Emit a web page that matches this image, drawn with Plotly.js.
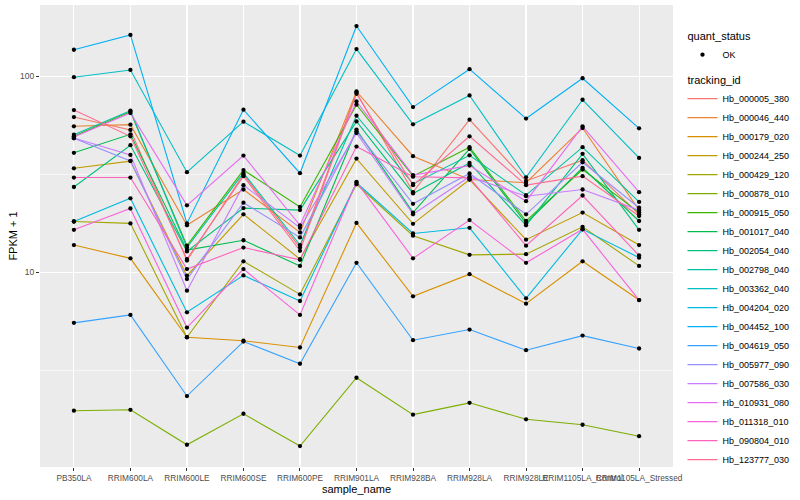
<!DOCTYPE html>
<html><head><meta charset="utf-8">
<script src="https://cdn.plot.ly/plotly-3.0.1.min.js"></script>
<style>html,body{margin:0;padding:0;background:#fff}#chart{width:800px;height:500px}</style>
</head><body><div id="chart"></div>
<script>
const samples = ['PB350LA','RRIM600LA','RRIM600LE','RRIM600SE','RRIM600PE','RRIM901LA','RRIM928BA','RRIM928LA','RRIM928LE','RRIM1105LA_Control','RRIM1105LA_Stressed'];
const trackingIds = ['Hb_000005_380','Hb_000046_440','Hb_000179_020','Hb_000244_250','Hb_000429_120','Hb_000878_010','Hb_000915_050','Hb_001017_040','Hb_002054_040','Hb_002798_040','Hb_003362_040','Hb_004204_020','Hb_004452_100','Hb_004619_050','Hb_005977_090','Hb_007586_030','Hb_010931_080','Hb_011318_010','Hb_090804_010','Hb_123777_030'];
const quantStatus = 'OK';

// FPKM + 1 per sample (order of `samples`)
const Hb_000005_380 = [62.1, 53.4, 11.5, 31.6, 13.4, 82.9, 25.7, 60.2, 29.3, 37.4, 19.8];
const Hb_000046_440 = [55.7, 56.8, 17.4, 26.5, 16.0, 83.9, 39.2, 29.8, 28.7, 54.6, 20.8];
const Hb_000179_020 = [13.8, 11.8, 4.67, 4.48, 4.14, 17.9, 7.55, 9.8, 6.93, 11.4, 7.23];
const Hb_000244_250 = [34.0, 37.0, 9.62, 19.8, 11.7, 38.1, 17.7, 29.8, 14.7, 20.2, 13.8];
const Hb_000429_120 = [18.2, 17.8, 4.67, 11.4, 7.73, 28.2, 15.4, 12.3, 12.4, 17.1, 10.8];
const Hb_000878_010 = [1.97, 1.99, 1.32, 1.9, 1.3, 2.9, 1.88, 2.16, 1.78, 1.67, 1.46];
const Hb_000915_050 = [49.5, 66.1, 13.7, 33.3, 21.6, 71.8, 31.0, 43.6, 18.3, 33.5, 20.2];
const Hb_001017_040 = [40.8, 50.7, 13.0, 14.6, 10.8, 53.6, 20.2, 42.7, 17.8, 34.2, 18.3];
const Hb_002054_040 = [27.3, 44.6, 12.8, 21.3, 20.8, 59.0, 25.3, 36.2, 17.4, 40.3, 16.5];
const Hb_002798_040 = [50.5, 66.9, 13.4, 32.2, 13.8, 63.1, 28.3, 39.6, 24.8, 43.6, 22.9];
const Hb_003362_040 = [99.2, 108, 32.5, 58.8, 39.5, 138, 57.0, 80.1, 30.6, 76.1, 38.4];
const Hb_004204_020 = [18.2, 23.9, 6.26, 9.66, 7.15, 28.7, 15.8, 16.9, 7.38, 16.6, 11.9];
const Hb_004452_100 = [137, 163, 17.8, 67.7, 32.1, 181, 69.8, 109, 61, 98, 54.4];
const Hb_004619_050 = [5.53, 6.07, 2.34, 4.44, 3.42, 11.2, 4.51, 5.11, 4.01, 4.76, 4.09];
const Hb_005977_090 = [48.4, 37.1, 9.25, 22.7, 15.1, 52.5, 22.4, 32.0, 19.8, 36.5, 21.4];
const Hb_007586_030 = [48.6, 39.8, 8.07, 27.9, 16.9, 51.5, 19.8, 30.8, 24.5, 26.5, 20.8];
const Hb_010931_080 = [49.1, 65.1, 22.0, 39.5, 17.4, 74.6, 31.4, 35.1, 23.1, 55.7, 25.7];
const Hb_011318_010 = [16.5, 21.2, 5.23, 10.4, 6.07, 29.0, 11.8, 18.5, 11.2, 16.6, 7.23];
const Hb_090804_010 = [30.5, 30.5, 10.4, 13.4, 11.6, 43.9, 30.8, 30.4, 13.7, 24.7, 12.2];
const Hb_123777_030 = [67.4, 49.5, 11.7, 31.0, 12.9, 81.6, 27.9, 49.5, 27.9, 31.0, 19.4];

const seriesValues = [Hb_000005_380, Hb_000046_440, Hb_000179_020, Hb_000244_250, Hb_000429_120, Hb_000878_010, Hb_000915_050, Hb_001017_040, Hb_002054_040, Hb_002798_040, Hb_003362_040, Hb_004204_020, Hb_004452_100, Hb_004619_050, Hb_005977_090, Hb_007586_030, Hb_010931_080, Hb_011318_010, Hb_090804_010, Hb_123777_030];

const palette = ['#F8766D','#EA8331','#D89000','#C09B00','#A3A500','#7CAE00','#39B600','#00BB4E','#00BF7D','#00C1A3','#00BFC4','#00BAE0','#00B0F6','#35A2FF','#9590FF','#C77CFF','#E76BF3','#FA62DB','#FF62BC','#FF6C91'];

const traces = [];
trackingIds.forEach((id, i) => {
  traces.push({
    type: 'scatter', mode: 'lines', x: samples, y: seriesValues[i], name: id,
    line: {color: palette[i], width: 1.1},
    legendgroup: 'tracking', legendgrouptitle: {text: 'tracking_id', font: {size: 11, color: '#000'}},
    legendrank: 10 + i, hoverinfo: 'skip'
  });
});
const px = [], py = [];
seriesValues.forEach(vals => vals.forEach((v, j) => { px.push(samples[j]); py.push(v); }));
traces.push({
  type: 'scatter', mode: 'markers', x: px, y: py, name: quantStatus,
  marker: {color: '#000', size: 4.3},
  legendgroup: 'quant', legendgrouptitle: {text: 'quant_status', font: {size: 11, color: '#000'}},
  legendrank: 1, hoverinfo: 'skip'
});

const layout = {
  width: 800, height: 500,
  margin: {l: 40, r: 117, t: 5, b: 33},
  paper_bgcolor: '#fff', plot_bgcolor: '#EBEBEB',
  font: {family: 'Liberation Sans, Arial, sans-serif', size: 9, color: '#4D4D4D'},
  showlegend: true,
  xaxis: {
    type: 'category', range: [-0.6, 10.6], tickangle: 0, automargin: false,
    showgrid: true, gridcolor: '#fff', gridwidth: 1.1, zeroline: false, showline: false,
    ticks: 'outside', ticklen: 3, tickwidth: 1, tickcolor: '#333',
    tickfont: {size: 8.3, color: '#4D4D4D'},
    title: {text: 'sample_name', font: {size: 11, color: '#000'}, standoff: 0}
  },
  yaxis: {
    type: 'log', range: [0.007, 2.365], automargin: false,
    tickmode: 'array', tickvals: [10, 100], ticktext: ['10', '100'],
    showgrid: true, gridcolor: '#fff', gridwidth: 1.1, zeroline: false, showline: false,
    ticks: 'outside', ticklen: 3, tickwidth: 1, tickcolor: '#333',
    tickfont: {size: 8.5, color: '#4D4D4D'},
    minor: {tickmode: 'array', tickvals: [3.1623, 31.623], showgrid: true, gridcolor: '#fff', gridwidth: 0.55, ticks: ''},
    title: {text: 'FPKM + 1', font: {size: 11, color: '#000'}, standoff: 0}
  },
  legend: {
    x: 1.015, xanchor: 'left', y: 0.965, yanchor: 'top',
    traceorder: 'grouped', tracegroupgap: 6, itemwidth: 30,
    font: {size: 9, color: '#000'}, bgcolor: 'rgba(0,0,0,0)'
  }
};

Plotly.newPlot('chart', traces, layout, {displayModeBar: false, staticPlot: true});
</script>
</body></html>
